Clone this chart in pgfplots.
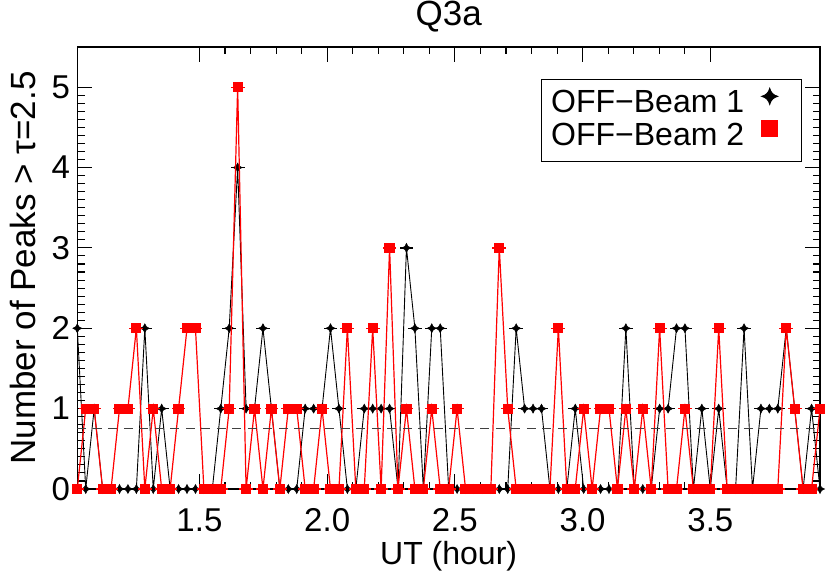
\documentclass[border=0pt]{standalone}
\usepackage{fontspec}
\setmainfont{Liberation Sans}
\usepackage{pgfplots}
\pgfplotsset{compat=1.18}
\usepackage{pgfplotstable}

\newcommand\tickf{\fontsize{33}{40}\selectfont}
\newcommand\xlabf{\fontsize{32}{38}\selectfont}
\newcommand\ylabf{\fontsize{35}{42}\selectfont}
\newcommand\legf{\fontsize{32}{38}\selectfont}
\newcommand\titlef{\fontsize{35}{42}\selectfont}

\pgfdeclareplotmark{star4}{%
  \pgfpathmoveto{\pgfqpoint{0pt}{\pgfplotmarksize}}%
  \pgfpathquadraticcurveto{\pgfqpoint{0.2\pgfplotmarksize}{0.2\pgfplotmarksize}}{\pgfqpoint{\pgfplotmarksize}{0pt}}%
  \pgfpathquadraticcurveto{\pgfqpoint{0.2\pgfplotmarksize}{-0.2\pgfplotmarksize}}{\pgfqpoint{0pt}{-\pgfplotmarksize}}%
  \pgfpathquadraticcurveto{\pgfqpoint{-0.2\pgfplotmarksize}{-0.2\pgfplotmarksize}}{\pgfqpoint{-\pgfplotmarksize}{0pt}}%
  \pgfpathquadraticcurveto{\pgfqpoint{-0.2\pgfplotmarksize}{0.2\pgfplotmarksize}}{\pgfqpoint{0pt}{\pgfplotmarksize}}%
  \pgfpathclose\pgfusepathqfillstroke}

% OFF-Beam 1 (black)
\pgfplotstableread{
x y
1.0220 2
1.0550 0
1.0881 1
1.1211 0
1.1541 0
1.1872 0
1.2202 0
1.2532 0
1.2863 2
1.3193 0
1.3523 1
1.3854 0
1.4184 0
1.4514 0
1.4845 0
1.5175 0
1.5505 0
1.5836 1
1.6166 2
1.6496 4
1.6827 1
1.7157 1
1.7487 2
1.7818 1
1.8148 0
1.8479 0
1.8809 0
1.9139 1
1.9470 1
1.9800 1
2.0130 2
2.0461 1
2.0791 0
2.1121 0
2.1452 1
2.1782 1
2.2112 1
2.2443 1
2.2773 0
2.3103 3
2.3434 2
2.3764 0
2.4094 2
2.4425 2
2.4755 0
2.5085 0
2.5416 0
2.5746 0
2.6076 0
2.6407 0
2.6737 0
2.7067 0
2.7398 2
2.7728 1
2.8058 1
2.8389 1
2.8719 0
2.9049 0
2.9380 0
2.9710 1
3.0040 0
3.0371 0
3.0701 0
3.1031 0
3.1362 0
3.1692 2
3.2022 0
3.2353 0
3.2683 0
3.3013 1
3.3344 1
3.3674 2
3.4004 2
3.4335 0
3.4665 1
3.4995 0
3.5326 1
3.5656 0
3.5986 0
3.6317 2
3.6647 0
3.6978 1
3.7308 1
3.7638 1
3.7969 2
3.8299 1
3.8629 0
3.8960 1
3.9290 0
}\beamone

% OFF-Beam 2 (red)
\pgfplotstableread{
x y
1.0220 0
1.0550 1
1.0881 1
1.1211 0
1.1541 0
1.1872 1
1.2202 1
1.2532 2
1.2863 0
1.3193 1
1.3523 0
1.3854 0
1.4184 1
1.4514 2
1.4845 2
1.5175 0
1.5505 0
1.5836 0
1.6166 1
1.6496 5
1.6827 0
1.7157 1
1.7487 0
1.7818 1
1.8148 0
1.8479 1
1.8809 1
1.9139 0
1.9470 0
1.9800 1
2.0130 0
2.0461 0
2.0791 2
2.1121 0
2.1452 0
2.1782 2
2.2112 0
2.2443 3
2.2773 0
2.3103 1
2.3434 0
2.3764 0
2.4094 1
2.4425 0
2.4755 0
2.5085 1
2.5416 0
2.5746 0
2.6076 0
2.6407 0
2.6737 3
2.7067 1
2.7398 0
2.7728 0
2.8058 0
2.8389 0
2.8719 0
2.9049 2
2.9380 0
2.9710 0
3.0040 1
3.0371 0
3.0701 1
3.1031 1
3.1362 0
3.1692 1
3.2022 0
3.2353 1
3.2683 0
3.3013 2
3.3344 0
3.3674 0
3.4004 1
3.4335 0
3.4665 0
3.4995 0
3.5326 2
3.5656 0
3.5986 0
3.6317 0
3.6647 0
3.6978 0
3.7308 0
3.7638 0
3.7969 2
3.8299 1
3.8629 0
3.8960 0
3.9290 1
}\beamtwo

\begin{document}
\begin{tikzpicture}
\begin{axis}[
  name=ax,
  scale only axis, width=742.7pt, height=442pt,
  xmin=1.022, xmax=3.929, ymin=0, ymax=5.5,
  clip mode=individual,
  axis line style={line width=1.3pt},
  every tick/.style={black, line width=1.1pt},
  xtick={1.5,2.0,2.5,3.0,3.5}, xticklabels={1.5,2.0,2.5,3.0,3.5},
  minor x tick num=4,
  ytick={0,1,2,3,4,5}, yticklabels={0,1,2,3,4,5},
  minor y tick num=9,
  major tick length=14.8pt, minor tick length=7.4pt,
  tick align=inside,
  ticklabel style={font=\tickf},
  xticklabel style={anchor=base, yshift=-42pt},
  yticklabel style={anchor=east, inner sep=0pt, xshift=-7pt},
  title={Q3a},
  title style={at={(axis description cs:0.5,1)}, anchor=base, yshift=15pt, font=\titlef},
  xlabel={UT (hour)},
  xlabel style={at={(axis description cs:0.5,0)}, anchor=base, yshift=-75pt, font=\xlabf},
  ylabel={Number of Peaks > τ=2.5},
  ylabel style={at={(axis description cs:-0.0565,0.5)}, anchor=base, font=\ylabf},
  legend plot pos=right,
  legend style={at={(0.9758,0.9276)}, anchor=north east, draw=black, line width=1pt,
    inner xsep=9.5pt, inner ysep=8.85pt, font=\legf, cells={anchor=center},
    nodes={inner sep=0pt, text height=23.85pt, text depth=7.85pt},
    column sep=0pt, row sep=0pt},
]
\addplot[black, line width=0.9pt, mark=star4, mark size=4.5pt,
  mark options={fill=black, draw=black, line width=0.5pt},
  legend image code/.code={%
    \path (0pt,0pt) (46.7pt,0pt);
    \draw[only marks, mark=star4, mark size=8pt, mark options={fill=black, draw=black}] plot coordinates {(25pt,8.4pt)};},
  error bars/.cd, x dir=both, x fixed=0.027, error mark=none,
  error bar style={black, line width=1.3pt}]
  table[x=x, y=y] {\beamone};
\addlegendentry{OFF−Beam 1}
\addplot[red, line width=1.2pt, mark=square*, mark size=4.5pt,
  mark options={fill=red, draw=red},
  legend image code/.code={%
    \path (0pt,0pt) (46.7pt,0pt);
    \draw[only marks, mark=square*, mark size=8pt, mark options={fill=red, draw=red}] plot coordinates {(25pt,8.4pt)};},
  error bars/.cd, x dir=both, x fixed=0.027, error mark=none,
  error bar style={red, line width=1.3pt}]
  table[x=x, y=y] {\beamtwo};
\addlegendentry{OFF−Beam 2}
\addplot[forget plot, black!75, line width=1.5pt, dash pattern=on 9pt off 6.5pt]
  coordinates {(1.022,0.75) (3.929,0.75)};
\end{axis}
\pgfresetboundingbox
\path (ax.south west) ++(-77.3pt,-84pt) rectangle ++(830pt,573pt);
\end{tikzpicture}
\end{document}
